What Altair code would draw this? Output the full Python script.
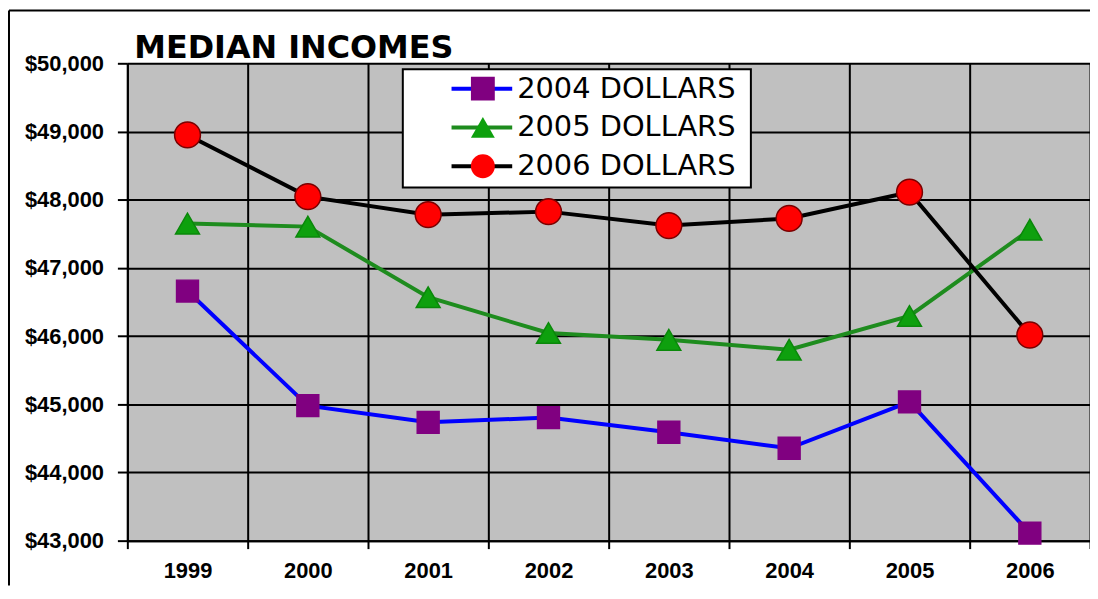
import altair as alt
import pandas as pd

YEARS = ["1999", "2000", "2001", "2002", "2003", "2004", "2005", "2006"]
SERIES = ["2004 DOLLARS", "2005 DOLLARS", "2006 DOLLARS"]
INC_2004 = [46660, 44980, 44735, 44805, 44590, 44355, 45035, 43110]
INC_2005 = [47650, 47605, 46570, 46045, 45945, 45800, 46295, 47560]
INC_2006 = [48950, 48045, 47780, 47825, 47620, 47725, 48110, 46015]
Y_TICKS = [43000, 44000, 45000, 46000, 47000, 48000, 49000, 50000]
TITLE = "MEDIAN INCOMES"

LINE_COLORS = ["#0000ff", "#1e8c1e", "#000000"]
FILL_COLORS = ["#800080", "#0ea00e", "#ff0000"]
EDGE_COLORS = ["#800080", "#0a880a", "#7a0000"]
SHAPES = ["square", "triangle-up", "circle"]
SIZES = [484, 576, 676]

rows = []
for s, vals in zip(SERIES, [INC_2004, INC_2005, INC_2006]):
    for yr, v in zip(YEARS, vals):
        rows.append({"year": yr, "income": v, "series": s, "marker": s})
df = pd.DataFrame(rows)

W, H = 968, 480
LABEL_FONT = "Liberation Sans"

x_enc = alt.X(
    "year:N", sort=YEARS,
    scale=alt.Scale(paddingInner=0, paddingOuter=0),
    axis=alt.Axis(title=None, labelAngle=0, tickBand="extent", grid=True,
                  gridColor="black", gridWidth=2, gridOpacity=1,
                  domainColor="black", domainWidth=2,
                  tickColor="black", tickWidth=2, tickSize=8,
                  labelFont=LABEL_FONT, labelFontSize=22, labelFontWeight="bold",
                  labelColor="black", labelPadding=12),
)
y_enc = alt.Y(
    "income:Q",
    scale=alt.Scale(domain=[43000, 50000], nice=False, zero=False),
    axis=alt.Axis(title=None, values=Y_TICKS, format="$,.0f", grid=True,
                  gridColor="black", gridWidth=2, gridOpacity=1,
                  domainColor="black", domainWidth=2,
                  tickColor="black", tickWidth=2, tickSize=10,
                  labelFont=LABEL_FONT, labelFontSize=22, labelFontWeight="bold",
                  labelColor="black", labelPadding=14),
)

def cond(field, values):
    return {
        "condition": [
            {"test": f"datum.{field} === '{SERIES[2]}'", "value": values[2]},
            {"test": f"datum.{field} === '{SERIES[1]}'", "value": values[1]},
        ],
        "value": values[0],
    }

leg_common = dict(orient="none", legendX=324, legendY=6, title=None,
                  labelFont="DejaVu Sans", labelFontSize=29, labelColor="black",
                  labelLimit=500, clipHeight=39, rowPadding=0, padding=0)

lines = alt.Chart(df).mark_line(strokeWidth=4).encode(
    x=x_enc, y=y_enc,
    stroke=alt.Stroke("series:N", scale=alt.Scale(range=LINE_COLORS),
                      legend=alt.Legend(symbolType="stroke", symbolSize=3721,
                                        symbolStrokeWidth=4, labelOffset=3,
                                        **leg_common)),
)

leg_pts = alt.Legend(symbolSize=576, symbolOffset=19, labelExpr="''",
                     symbolStrokeWidth=0, labelOffset=3, **leg_common)
points = alt.Chart(df).mark_point(filled=True, opacity=1, strokeWidth=1.5).encode(
    x=x_enc, y=y_enc,
    fill=alt.Fill("marker:N", scale=alt.Scale(range=FILL_COLORS), legend=leg_pts),
    shape=alt.Shape("marker:N", scale=alt.Scale(range=SHAPES), legend=leg_pts),
    stroke=cond("marker", EDGE_COLORS),
    size=cond("marker", SIZES),
)

one = pd.DataFrame({"t": [TITLE]})
title = alt.Chart(one).mark_text(
    font="DejaVu Sans", fontSize=32, fontWeight="bold", color="black",
    align="left", baseline="alphabetic",
).encode(text="t:N", x=alt.value(7), y=alt.value(-5))

legend_box = alt.Chart(one).mark_rect(fill="white", stroke="black", strokeWidth=2).encode(
    x=alt.value(277), x2=alt.value(627), y=alt.value(6), y2=alt.value(125))

border_left = alt.Chart(one).mark_rule(color="black", strokeWidth=2).encode(
    x=alt.value(-119), y=alt.value(-53), y2=alt.value(525))
border_top = alt.Chart(one).mark_rule(color="black", strokeWidth=2).encode(
    x=alt.value(-119), x2=alt.value(W), y=alt.value(-53))

chart = alt.layer(
    border_left, border_top, lines, points, legend_box, title
).properties(
    width=W, height=H,
    padding={"left": 120, "top": 54, "right": 0, "bottom": 45},
    autosize=alt.AutoSizeParams(type="none"),
    background="white",
).configure_view(fill="#c0c0c0", stroke="transparent")

chart.save("out.html", embed_options={"renderer": "svg", "actions": False})
